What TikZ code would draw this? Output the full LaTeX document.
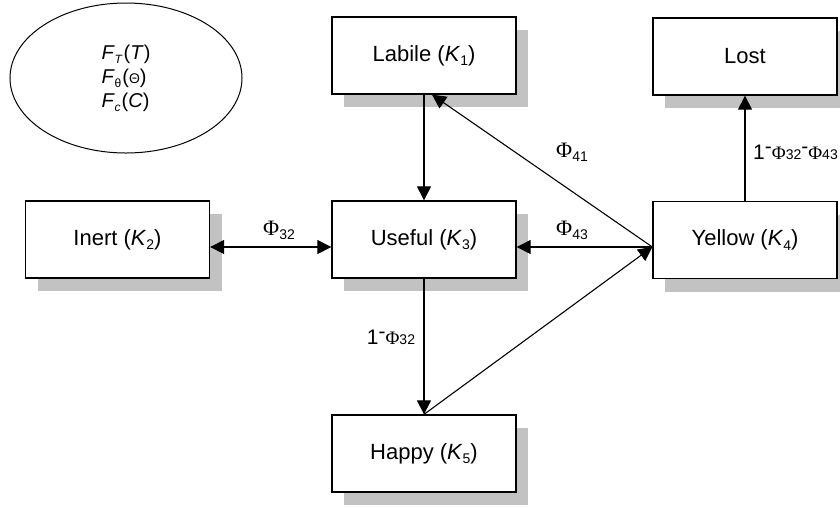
\documentclass[tikz,border=0pt]{standalone}
\usepackage{fontspec}
\setmainfont{Liberation Sans}
\newfontfamily\serifphi{Liberation Serif}
\usetikzlibrary{arrows.meta,shadows,shapes.geometric}
\newcommand{\lsub}[1]{\raisebox{-0.2em}{\fontsize{14}{14}\selectfont #1}}
\newcommand{\esub}[1]{\raisebox{-0.2em}{\fontsize{12}{12}\selectfont #1}}
\newcommand{\PhiBig}{{\fontsize{22}{22}\serifphi Φ}}
\newcommand{\PhiSmall}{{\fontsize{19}{19}\serifphi Φ}}
\newcommand{\smallnum}[1]{{\fontsize{14}{14}\selectfont #1}}
\newcommand{\hyup}{\raisebox{0.28em}{-}}
\begin{document}
\begin{tikzpicture}[x=1pt,y=-1pt,
  box/.style={draw, line width=1.3pt, fill=white, minimum width=184pt, minimum height=77pt,
    inner sep=0pt, font=\fontsize{22}{26}\selectfont,
    drop shadow={shadow xshift=12pt, shadow yshift=-13pt, fill=black!24, opacity=1}},
  conn/.style={line width=1.1pt, -{Triangle[length=14pt,width=14pt]}},
  dconn/.style={line width=1.1pt, {Triangle[length=14pt,width=14pt]}-{Triangle[length=14pt,width=14pt]}},
  lab/.style={font=\fontsize{21}{25}\selectfont, inner sep=0pt}]
\useasboundingbox (0,0) rectangle (840,507);

\node[draw, ellipse, line width=1pt, minimum width=232pt, minimum height=150pt, inner sep=0pt,
  align=left, font=\fontsize{20}{24}\selectfont] (env) at (126,78)
  {\textit{F}\esub{\textit{T}}\kern1pt(\textit{T})\\
   \textit{F}\esub{θ}\kern1pt({\fontsize{14}{14}\selectfont Θ})\\
   \textit{F}\esub{\textit{c}}\kern1pt(\textit{C})};

\node[box] (labile) at (424,55.5) {Labile (\textit{K}\lsub{1})};
\node[box] (lost) at (745,56.5) {Lost};
\node[box] (inert) at (117.5,239.5) {Inert (\textit{K}\lsub{2})};
\node[box] (useful) at (424,239.5) {Useful (\textit{K}\lsub{3})};
\node[box] (yellow) at (745,240) {Yellow (\textit{K}\lsub{4})};
\node[box] (happy) at (424,453.5) {Happy (\textit{K}\lsub{5})};

\coordinate (p) at ([yshift=-7pt]yellow.west);

\draw[dconn] ([yshift=-7.5pt]inert.east) -- ([yshift=-7.5pt]useful.west);
\draw[conn] (labile.south) -- (useful.north);
\draw[conn] (p) -- ([xshift=8pt]labile.south);
\draw[conn] (p) -- ([yshift=-7.5pt]useful.east);
\draw[conn] (happy.north) -- (p);
\draw[conn] (useful.south) -- (happy.north);
\draw[conn] (yellow.north) -- (lost.south);

\node[lab] (l32) at (279,230) {\PhiBig\lsub{32}};
\node[lab] (l41) at (572,152) {\PhiBig\lsub{41}};
\node[lab] (l43) at (572,230) {\PhiBig\lsub{43}};
\node[lab] (l532) at (391,337) {1\hyup\PhiSmall\smallnum{32}};
\node[lab, anchor=west] (lost32) at (753,152) {1\hyup\PhiSmall\smallnum{32}\hyup\PhiSmall\smallnum{43}};
\end{tikzpicture}
\end{document}
